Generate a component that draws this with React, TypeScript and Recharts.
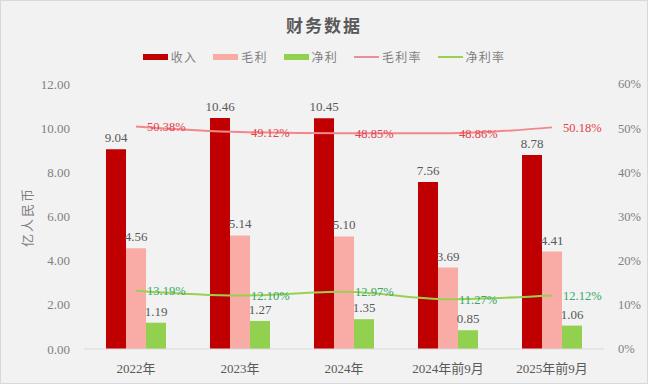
import React from 'react';
import { ComposedChart, Bar, Line, XAxis, YAxis, LabelList } from 'recharts';

const categories = ['2022年', '2023年', '2024年', '2024年前9月', '2025年前9月'];
const revenue = [9.04, 10.46, 10.45, 7.56, 8.78];
const grossProfit = [4.56, 5.14, 5.1, 3.69, 4.41];
const netProfit = [1.19, 1.27, 1.35, 0.85, 1.06];
const grossMargin = [50.38, 49.12, 48.85, 48.86, 50.18];
const netMargin = [13.19, 12.1, 12.97, 11.27, 12.12];
const leftTicks = [0, 2, 4, 6, 8, 10, 12];
const rightTicks = [0, 10, 20, 30, 40, 50, 60];
const boundaryTicks = [0, 1, 2, 3, 4, 5];

const data = categories.map((c, i) => ({
  name: c,
  revenue: revenue[i],
  grossProfit: grossProfit[i],
  netProfit: netProfit[i],
  grossMargin: grossMargin[i],
  netMargin: netMargin[i],
}));

const FONT = '"Liberation Serif", "Times New Roman", "Noto Sans CJK SC", serif';

const legendItems = [
  { label: '收入', color: '#c00000', type: 'bar' },
  { label: '毛利', color: '#f9aca6', type: 'bar' },
  { label: '净利', color: '#92d050', type: 'bar' },
  { label: '毛利率', color: '#ec8f92', type: 'line' },
  { label: '净利率', color: '#9bcf53', type: 'line' },
];

const LegendBox = () => (
  <div style={{ position: 'absolute', top: 48, left: 0, width: 648, height: 18, display: 'flex', justifyContent: 'center', alignItems: 'center', fontFamily: FONT, fontSize: 12, color: '#7f7f7f' }}>
    {legendItems.map((it, i) => (
      <div key={it.label} style={{ display: 'flex', alignItems: 'center', marginRight: i === legendItems.length - 1 ? 0 : 16 }}>
        <div style={{ width: 25, height: it.type === 'bar' ? 6 : 2, background: it.color, marginRight: 3 }} />
        <span style={{ letterSpacing: 1.2 }}>{it.label}</span>
      </div>
    ))}
  </div>
);

const fmt2 = (v: any) => Number(v).toFixed(2);

const makeLineLabel = (color: string) => (props: any) => {
  const { x, y, value } = props;
  return (
    <text x={x + 11} y={y + 4.5} fill={color} fontSize={12.5} fontFamily={FONT} textAnchor="start">
      {Number(value).toFixed(2)}%
    </text>
  );
};

export default function App() {
  return (
    <div style={{ position: 'absolute', left: 0, top: 0, width: 648, height: 384, background: '#f2f2f2', boxShadow: 'inset 0 0 0 1px #d9d9d9', overflow: 'hidden' }}>
      <div style={{ position: 'absolute', top: 12, left: 0, width: 648, textAlign: 'center', fontFamily: FONT, fontWeight: 'bold', fontSize: 17, color: '#595959', letterSpacing: 2 }}>
        财务数据
      </div>
      <LegendBox />
      <ComposedChart
        width={648}
        height={384}
        data={data}
        margin={{ top: 84, right: 0, bottom: 0, left: 0 }}
        barGap={0}
      >
        <XAxis
          xAxisId="bounds"
          type="number"
          domain={[0, 5]}
          ticks={boundaryTicks}
          allowDataOverflow
          height={0}
          tick={false}
          tickSize={4}
          tickLine={{ stroke: '#d9d9d9' }}
          axisLine={false}
        />
        <XAxis
          dataKey="name"
          height={35}
          tickSize={0}
          tickMargin={15}
          axisLine={{ stroke: '#d9d9d9' }}
          tick={{ fill: '#595959', fontSize: 13, fontFamily: FONT }}
          interval={0}
        />
        <YAxis
          yAxisId="left"
          width={84}
          domain={[0, 12]}
          ticks={leftTicks}
          tickFormatter={fmt2}
          tickSize={0}
          tickMargin={14}
          axisLine={false}
          tickLine={false}
          tick={{ fill: '#7f7f7f', fontSize: 13, fontFamily: FONT }}
          label={{
            content: () => (
              <text transform="translate(27,217) rotate(-90)" textAnchor="middle" dominantBaseline="central" fill="#7f7f7f" fontSize={13} fontFamily={FONT} letterSpacing={2}>
                亿人民币
              </text>
            ),
          }}
        />
        <YAxis
          yAxisId="right"
          orientation="right"
          width={44}
          domain={[0, 60]}
          ticks={rightTicks}
          tickFormatter={(v: any) => `${v}%`}
          tickSize={0}
          tickMargin={14}
          axisLine={false}
          tickLine={false}
          tick={{ fill: '#7f7f7f', fontSize: 12.5, fontFamily: FONT }}
        />
        <Bar yAxisId="left" dataKey="revenue" name="收入" fill="#c00000" barSize={20} isAnimationActive={false}>
          <LabelList dataKey="revenue" position="top" offset={7} formatter={fmt2} fill="#595959" fontSize={13} fontFamily={FONT} />
        </Bar>
        <Bar yAxisId="left" dataKey="grossProfit" name="毛利" fill="#f9aca6" barSize={20} isAnimationActive={false}>
          <LabelList dataKey="grossProfit" position="top" offset={7} formatter={fmt2} fill="#595959" fontSize={13} fontFamily={FONT} />
        </Bar>
        <Bar yAxisId="left" dataKey="netProfit" name="净利" fill="#92d050" barSize={20} isAnimationActive={false}>
          <LabelList dataKey="netProfit" position="top" offset={7} formatter={fmt2} fill="#595959" fontSize={13} fontFamily={FONT} />
        </Bar>
        <Line yAxisId="right" type="monotone" dataKey="grossMargin" name="毛利率" stroke="#f4878b" strokeWidth={2} dot={false} activeDot={false} isAnimationActive={false}>
          <LabelList dataKey="grossMargin" content={makeLineLabel('#e0434b')} />
        </Line>
        <Line yAxisId="right" type="monotone" dataKey="netMargin" name="净利率" stroke="#9bcf53" strokeWidth={2} dot={false} activeDot={false} isAnimationActive={false}>
          <LabelList dataKey="netMargin" content={makeLineLabel('#33a867')} />
        </Line>
      </ComposedChart>
    </div>
  );
}
